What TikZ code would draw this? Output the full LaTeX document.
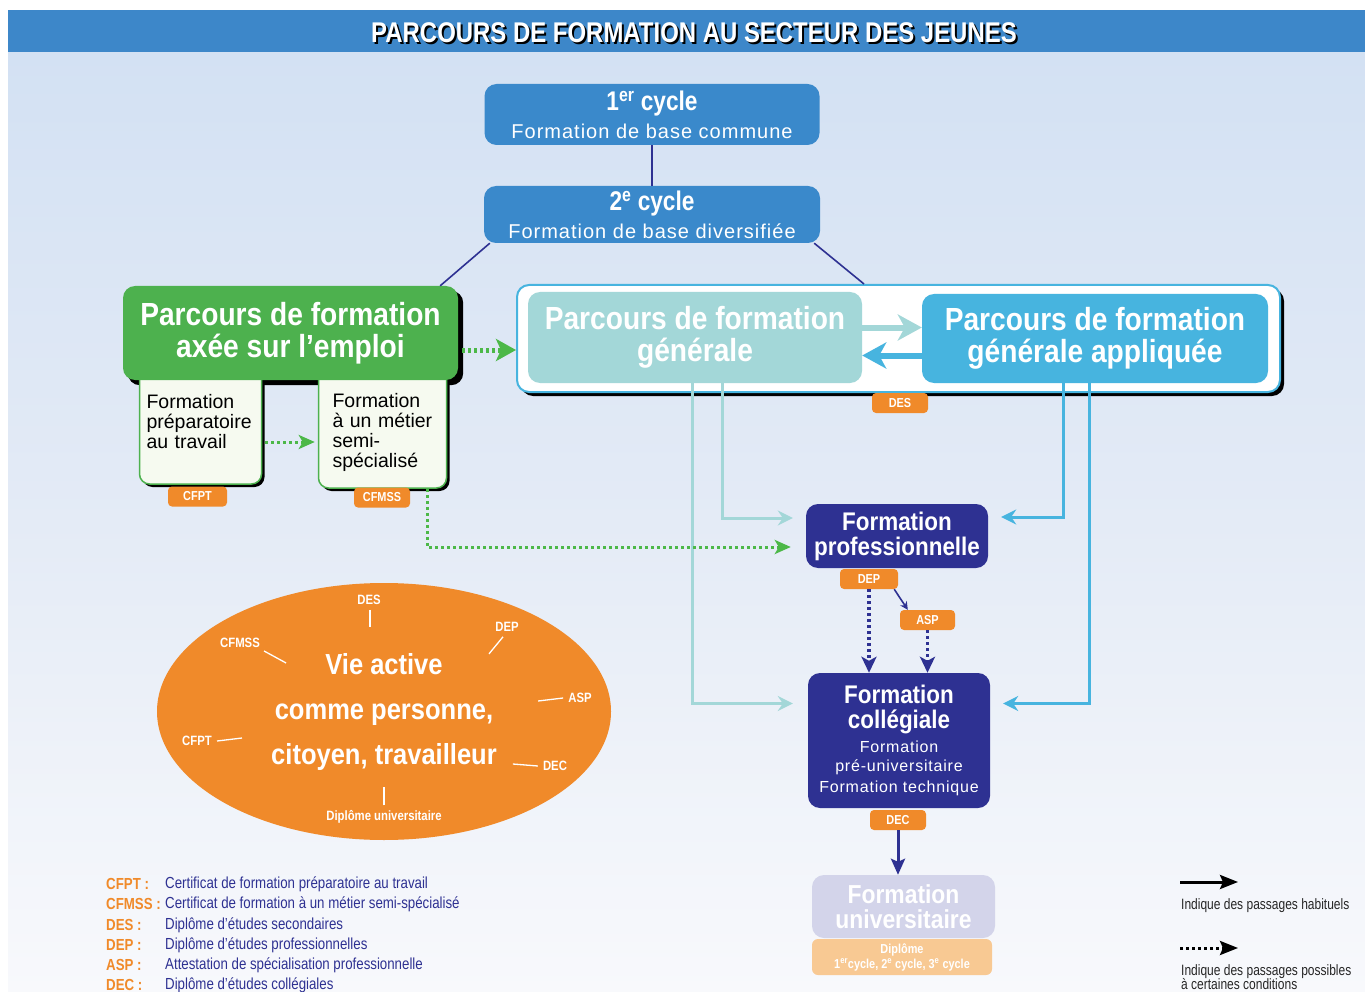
\documentclass[tikz,border=0pt]{standalone}
\usepackage{fontspec}
\setmainfont{Liberation Sans}
\newfontfamily\condfont[FakeStretch=0.84]{Liberation Sans}
\newfontfamily\boxfont[FakeStretch=0.88]{Liberation Sans}
\newfontfamily\narrowfont[FakeStretch=0.8]{Liberation Sans}
\newfontfamily\legfont[FakeStretch=0.83]{Liberation Sans}
\newfontfamily\spacedfont[LetterSpace=5]{Liberation Sans}
\newcommand{\colsub}[1]{{\spacedfont\mdseries\fontsize{16}{19}\selectfont #1}}
\usetikzlibrary{shapes,arrows.meta,positioning,backgrounds,shadows}

\definecolor{titleblue}{HTML}{3D87C9}
\definecolor{cycleblue}{HTML}{3A89CB}
\definecolor{emploigreen}{HTML}{4DB14E}
\definecolor{dotgreen}{HTML}{4CB848}
\definecolor{generalteal}{HTML}{A3D7D8}
\definecolor{appblue}{HTML}{47B4DF}
\definecolor{navy}{HTML}{2E3192}
\definecolor{badgeorange}{HTML}{F08A2A}
\definecolor{bgtop}{HTML}{D3E1F3}
\definecolor{bgmid}{HTML}{E4EBF6}
\definecolor{bgbottom}{HTML}{F8F9FC}
\definecolor{unilav}{HTML}{D3D4EA}
\definecolor{unipeach}{HTML}{F8C993}
\definecolor{subwhite}{HTML}{F6FAF0}

\tikzset{
  titletext/.style={text=white, font=\condfont\bfseries\fontsize{28.5}{30}\selectfont},
  cyclebox/.style={fill=cycleblue, rounded corners=12pt, text=white, align=center,
    inner sep=0pt, font=\spacedfont\fontsize{20}{28}\selectfont},
  bigbox/.style={rounded corners=12pt, text=white, align=center, inner sep=0pt,
    font=\boxfont\bfseries\fontsize{32}{32}\selectfont},
  subbox/.style={fill=subwhite, draw=emploigreen, line width=1.5pt, rounded corners=10pt,
    align=left, text width=108pt, inner xsep=7pt, inner ysep=0pt,
    font=\fontsize{19.5}{20}\selectfont,
    drop shadow={shadow xshift=3pt, shadow yshift=-3pt, fill=black, opacity=1}},
  navybox/.style={fill=navy, rounded corners=12pt, text=white, align=center, inner sep=0pt,
    font=\boxfont\bfseries\fontsize{25.5}{25}\selectfont},
  badge/.style={fill=badgeorange, rounded corners=4pt, text=white, inner sep=0pt,
    minimum height=20pt, font=\condfont\bfseries\fontsize{13}{13}\selectfont},
  vielabel/.style={text=white, inner sep=1pt, font=\condfont\bfseries\fontsize{13.5}{14}\selectfont},
  tick/.style={draw=white, line width=1.3pt},
  tealarrow/.style={draw=generalteal, line width=3pt, -{Stealth[length=15pt,width=15pt,inset=5pt]}},
  bluearrow/.style={draw=appblue, line width=3pt, -{Stealth[length=15pt,width=15pt,inset=5pt]}},
  greendots/.style={draw=dotgreen, line width=3pt, dash pattern=on 3pt off 3pt,
    -{Stealth[length=16pt,width=14pt,inset=4pt]}},
  navydots/.style={draw=navy, line width=3.5pt, dash pattern=on 3pt off 3pt,
    -{Stealth[length=16pt,width=15pt,inset=4pt]}},
  navyline/.style={draw=navy, line width=1.6pt},
  abbrev/.style={anchor=west, text=badgeorange, inner sep=0pt, font=\legfont\bfseries\fontsize{16}{16}\selectfont},
  legtext/.style={anchor=west, text=navy, inner sep=0pt, font=\legfont\fontsize{16}{16}\selectfont},
  keytext/.style={anchor=north west, text=black!85, inner sep=0pt, align=left,
    font=\narrowfont\fontsize{15}{14.5}\selectfont},
}

\begin{document}
\begin{tikzpicture}[x=1pt,y=-1pt]
\useasboundingbox (0,0) rectangle (1365,992);
% background and title bar
\begin{scope}[on background layer]
\fill[white] (0,0) rectangle (1365,992);
\fill[top color=bgtop, bottom color=bgbottom, middle color=bgmid] (8,52) rectangle (1365,992);
\end{scope}
\fill[titleblue] (8,10) rectangle (1365,52);
\node[titletext, text=black] (titleshadow) at (696,35) {PARCOURS DE FORMATION AU SECTEUR DES JEUNES};
\node[titletext] (title) at (694,33) {PARCOURS DE FORMATION AU SECTEUR DES JEUNES};

% 1er and 2e cycle
\node[cyclebox, minimum width=335pt, minimum height=61pt] (cycle1) at (652,114.5)
  {{\condfont\bfseries\fontsize{27}{28}\selectfont 1\textsuperscript{er} cycle}\\Formation de base commune};
\node[cyclebox, minimum width=336pt, minimum height=57pt] (cycle2) at (652,214.5)
  {{\condfont\bfseries\fontsize{27}{28}\selectfont 2\textsuperscript{e} cycle}\\Formation de base diversifiée};
\draw[navyline] (cycle1.south) -- (cycle2.north);

% parcours axe sur l'emploi (sub boxes first, green box over them)
\node[subbox, minimum height=124pt] (prep) at (200.5,422) {Formation\\préparatoire\\au travail};
\node[subbox, minimum height=121pt, inner xsep=14pt, text width=100pt] (metier) at (382.5,427.5)
  {\begin{tabular}{@{}l@{}}\\[-8pt]Formation\\à un métier\\semi-\\spécialisé\end{tabular}};
\node[bigbox, fill=emploigreen, minimum width=335pt, minimum height=94pt] (emploi) at (290.5,333)
  {Parcours de formation\\axée sur l’emploi};
\begin{scope}[on background layer]
\fill[black, rounded corners=12pt] ([shift={(5,5)}]emploi.north west) rectangle ([shift={(5,5)}]emploi.south east);
\end{scope}
\node[badge, minimum width=59pt] (cfpt) at (197.5,496.5) {CFPT};
\node[badge, minimum width=56pt] (cfmss) at (382,497.5) {CFMSS};

% formation generale (frame with two boxes)
\node[fill=white, draw=appblue, line width=2pt, rounded corners=12pt, minimum width=763pt,
  minimum height=107pt, drop shadow={shadow xshift=4pt, shadow yshift=-4pt, fill=black, opacity=1}]
  (frame) at (898.5,338.5) {};
\node[bigbox, fill=generalteal, minimum width=334pt, minimum height=91pt] (gen) at (695,337.5)
  {Parcours de formation\\générale};
\node[bigbox, fill=appblue, minimum width=346pt, minimum height=89pt] (gapp) at (1095,338.5)
  {Parcours de formation\\générale appliquée};
\node[badge, minimum width=56pt] (des) at (900,403) {DES};
\draw[draw=generalteal, line width=6pt, -{Stealth[length=24pt,width=26pt,inset=7pt]}]
  ([shift={(0,-10)}]gen.east) -- ([shift={(0,-10)}]gen.east -| gapp.west);
\draw[draw=appblue, line width=6pt, -{Stealth[length=24pt,width=26pt,inset=7pt]}]
  ([shift={(0,17)}]gapp.west) -- ([shift={(0,17)}]gapp.west -| gen.east);

% cycle 2 to both parcours
\draw[navyline] ([xshift=6pt]cycle2.south west) -- ([xshift=-18pt]emploi.north east);
\draw[navyline] ([xshift=-6pt]cycle2.south east) -- ([xshift=348pt]frame.north west);

% formation professionnelle and collegiale
\node[navybox, minimum width=182pt, minimum height=64pt] (pro) at (897,536) {Formation\\professionnelle};
\node[navybox, minimum width=182pt, minimum height=135pt] (col) at (899,740.5)
  {Formation\\collégiale\\[-1pt]\colsub{Formation}\\[-6pt]\colsub{pré-universitaire}\\[-4pt]\colsub{Formation technique}};
\node[badge, minimum width=58pt] (dep) at (869,579) {DEP};
\node[badge, minimum width=55pt] (asp) at (927.5,620) {ASP};
\node[badge, minimum width=56pt] (dec) at (898,820) {DEC};

% formation universitaire
\node[bigbox, fill=unilav, minimum width=183pt, minimum height=63pt,
  font=\boxfont\bfseries\fontsize{26}{25}\selectfont] (uni) at (903.5,906.5) {Formation\\universitaire};
\node[fill=unipeach, rounded corners=6pt, text=white, align=center, inner sep=0pt,
  minimum width=180pt, minimum height=36pt, font=\condfont\bfseries\fontsize{13}{15}\selectfont]
  (unidip) at (902,957) {Diplôme\\1\textsuperscript{er}cycle, 2\textsuperscript{e} cycle, 3\textsuperscript{e} cycle};

% connectors from the parcours
\coordinate (proleft) at ([shift={(-13,-18)}]pro.west);
\coordinate (colleft) at ([shift={(-15,-37)}]col.west);
\coordinate (proright) at ([shift={(13,-19)}]pro.east);
\coordinate (colright) at ([shift={(13,-37)}]col.east);
\draw[tealarrow] ([xshift=27pt]gen.south) |- (proleft);
\draw[tealarrow] ([xshift=-3pt]gen.south) |- (colleft);
\draw[bluearrow] ([xshift=-32pt]gapp.south) |- (proright);
\draw[bluearrow] ([xshift=-6pt]gapp.south) |- (colright);

% green dotted passages
\coordinate (prepout) at ([shift={(3,20)}]prep.east);
\draw[greendots] (prepout) -- ([xshift=-3pt]prepout -| metier.west);
\coordinate (emploiout) at ([shift={(4,17)}]emploi.east);
\draw[greendots, line width=5pt, -{Stealth[length=20pt,width=22pt,inset=5pt]}]
  (emploiout) -- (emploiout -| frame.west);
\coordinate (proin) at ([shift={(-15,11)}]pro.west);
\draw[greendots] ([xshift=-20pt]metier.south east) |- (proin);

% DEP, ASP and DEC passages
\draw[navyline, -{Stealth[length=8pt,width=8pt]}] ([xshift=-4pt]dep.south east) -- ([xshift=8pt]asp.north west);
\draw[navydots] (dep.south) -- (dep.south |- col.north);
\draw[navydots] (asp.south) -- (asp.south |- col.north);
\draw[navyline, line width=3pt, -{Stealth[length=16pt,width=14pt,inset=3pt]}] (dec.south) -- (dec.south |- uni.north);

% vie active
\node[ellipse, fill=badgeorange, minimum width=454pt, minimum height=257pt, inner sep=0pt,
  text=white, align=center, font=\boxfont\bfseries\fontsize{29}{45}\selectfont] (vie) at (384,711.5)
  {Vie active\\comme personne,\\citoyen, travailleur};
\node[vielabel] (viedes) at (369,600) {DES};
\node[vielabel] (viedep) at (507,627) {DEP};
\node[vielabel] (viecfmss) at (240,643) {CFMSS};
\node[vielabel] (vieasp) at (580,698) {ASP};
\node[vielabel] (viecfpt) at (197,741) {CFPT};
\node[vielabel] (viedec) at (555,766) {DEC};
\node[vielabel] (viediplome) at (384,817) {Diplôme universitaire};
\draw[tick] ([shift={(1,4)}]viedes.south) -- ++(0,17);
\draw[tick] ([shift={(-4,4)}]viedep.south) -- ++(-14,17);
\draw[tick] ([shift={(3,2)}]viecfmss.south east) -- ++(22,12);
\draw[tick] ([xshift=-4pt]vieasp.west) -- ++(-25,3);
\draw[tick] ([xshift=4pt]viecfpt.east) -- ++(25,-3);
\draw[tick] ([xshift=-4pt]viedec.west) -- ++(-25,-2);
\draw[tick] ([shift={(0,-4)}]viediplome.north) -- ++(0,-18);

% legend of the diplomas
\node[abbrev] (abcfpt) at (106,884) {CFPT :};
\node[abbrev] (abcfmss) at (106,904) {CFMSS :};
\node[abbrev] (abdes) at (106,925) {DES :};
\node[abbrev] (abdep) at (106,945) {DEP :};
\node[abbrev] (abasp) at (106,965) {ASP :};
\node[abbrev] (abdec) at (106,985) {DEC :};
\node[legtext] (defcfpt) at (165,884) {Certificat de formation préparatoire au travail};
\node[legtext] (defcfmss) at (165,904) {Certificat de formation à un métier semi-spécialisé};
\node[legtext] (defdes) at (165,925) {Diplôme d’études secondaires};
\node[legtext] (defdep) at (165,945) {Diplôme d’études professionnelles};
\node[legtext] (defasp) at (165,965) {Attestation de spécialisation professionnelle};
\node[legtext] (defdec) at (165,985) {Diplôme d’études collégiales};

% legend of the arrows
\coordinate (solidfrom) at (1180,882);
\coordinate (solidto) at (1238,882);
\draw[black, line width=3pt, -{Stealth[length=18pt,width=14pt,inset=3pt]}] (solidfrom) -- (solidto);
\node[keytext] (habituel) at (1181,898) {Indique des passages habituels};
\coordinate (dotfrom) at (1180,948);
\coordinate (dotto) at (1238,948);
\draw[black, line width=3pt, dash pattern=on 3pt off 3pt, -{Stealth[length=18pt,width=14pt,inset=3pt]}] (dotfrom) -- (dotto);
\node[keytext] (possible) at (1181,964) {Indique des passages possibles\\à certaines conditions};
\end{tikzpicture}
\end{document}
